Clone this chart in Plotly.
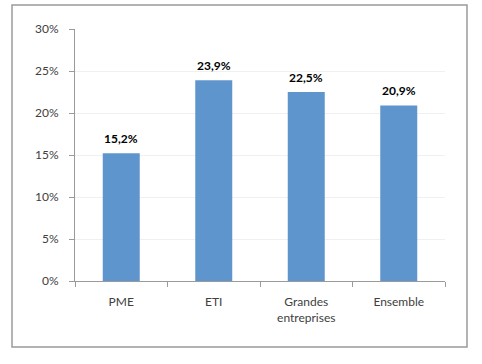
import plotly.graph_objects as go

categories = ["PME", "ETI", "Grandes<br>entreprises", "Ensemble"]
values = [0.152, 0.239, 0.225, 0.209]
labels = ["15,2%", "23,9%", "22,5%", "20,9%"]
y_ticks = [0, 0.05, 0.10, 0.15, 0.20, 0.25, 0.30]

FONT = "Lato, 'Open Sans', sans-serif"

fig = go.Figure(go.Bar(
    x=categories, y=values,
    marker=dict(color="#5f95cd", line=dict(width=0)),
    hoverinfo="x+y",
))

for c, v, t in zip(categories, values, labels):
    fig.add_annotation(
        x=c, y=v, text="<b>" + t + "</b>", showarrow=False,
        yanchor="bottom", yshift=5,
        font=dict(size=12, color="#000000", family=FONT),
    )

L, R, T, B = 75, 445, 29, 281
W, H = 482, 364
pw, ph = R - L, B - T

def px(x):
    return (x - L) / pw

def py(y):
    return (B - y) / ph

fig.update_layout(
    width=W, height=H,
    margin=dict(l=L, r=W - R, t=T, b=H - B),
    paper_bgcolor="white", plot_bgcolor="white",
    separators=", ",
    bargap=0.6,
    showlegend=False,
    font=dict(family=FONT, size=12, color="#404040"),
    xaxis=dict(
        showline=True, linecolor="#9a9a9a", linewidth=1,
        ticks="outside", ticklen=5, tickcolor="#9a9a9a",
        tickson="boundaries", showgrid=False,
        ticklabelstandoff=10,
        tickfont=dict(size=12, color="#404040"),
    ),
    yaxis=dict(
        range=[0, 0.30], tickvals=y_ticks, tickformat=".0%",
        showline=True, linecolor="#9a9a9a", linewidth=1,
        ticks="outside", ticklen=5, tickcolor="#9a9a9a",
        showgrid=True, gridcolor="#f0f0f0", gridwidth=1,
        zeroline=False,
        ticklabelstandoff=8,
        tickfont=dict(size=12, color="#404040"),
    ),
    shapes=[dict(
        type="rect", xref="paper", yref="paper",
        x0=px(12), x1=px(467), y0=py(347), y1=py(5),
        line=dict(color="#9a9a9a", width=1.5), fillcolor="rgba(0,0,0,0)",
        layer="below",
    )],
)

fig.write_html(
    "out.html",
    config={"displayModeBar": False},
    post_script="document.body.style.margin='0';",
)
